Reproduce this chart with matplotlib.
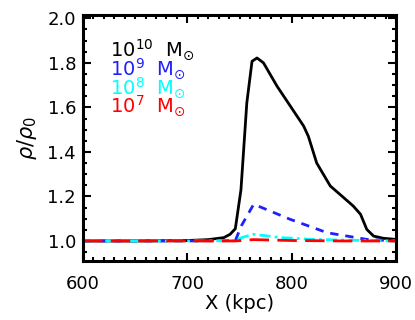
import matplotlib
matplotlib.use("Agg")
import matplotlib.pyplot as plt
from matplotlib.ticker import MultipleLocator, FormatStrFormatter

plt.rcParams['font.family'] = ['DejaVu Sans']
plt.rcParams['mathtext.fontset'] = 'dejavusans'

# Data
x_black = [600, 650, 700, 720, 735, 741, 746, 751.4, 757, 762, 766.8, 773, 786, 798.7, 811.5,
           816, 824, 837, 850, 859, 866, 872, 878.5, 888, 900]
y_black = [1.0, 1.0, 1.002, 1.006, 1.015, 1.03, 1.055, 1.23, 1.62, 1.807, 1.822, 1.80, 1.695,
           1.606, 1.516, 1.47, 1.35, 1.247, 1.194, 1.157, 1.12, 1.052, 1.022, 1.012, 1.007]

x_blue = [600, 700, 746, 752, 763.6, 798.7, 834, 872, 900]
y_blue = [1.0, 1.0, 1.002, 1.07, 1.165, 1.097, 1.037, 1.007, 1.0]

x_cyan = [600, 700, 746, 752, 763, 790, 820, 860, 900]
y_cyan = [1.0, 1.0, 1.001, 1.015, 1.03, 1.015, 1.007, 1.003, 1.0]

x_red = [600, 700, 746, 763, 800, 850, 900]
y_red = [1.0, 1.0, 1.0, 1.006, 1.002, 1.0, 1.0]

labels = [r'10$^{10}$  M$_{\odot}$', r'10$^{9}$  M$_{\odot}$',
          r'10$^{8}$  M$_{\odot}$', r'10$^{7}$  M$_{\odot}$']
colors = ['black', '#2020ff', 'cyan', 'red']

fig = plt.figure(figsize=(4.15, 3.2), dpi=100)
ax = fig.add_axes([83/415, 1 - 261/320, (396-83)/415, (261-15)/320])

ax.plot(x_black, y_black, color='black', lw=2.0, solid_joinstyle='round')
ax.plot(x_blue, y_blue, color='#2020ff', lw=2.0, dashes=(3, 2.5))
ax.plot(x_cyan, y_cyan, color='cyan', lw=2.0, dashes=(4, 1.5, 1, 1.5))
ax.plot(x_red, y_red, color='red', lw=2.0, dashes=(7, 3))

ax.set_xlim(600, 900)
ax.set_ylim(0.91, 2.015)
ax.xaxis.set_major_locator(MultipleLocator(100))
ax.xaxis.set_minor_locator(MultipleLocator(10))
ax.yaxis.set_major_locator(MultipleLocator(0.2))
ax.yaxis.set_minor_locator(MultipleLocator(0.05))
ax.yaxis.set_major_formatter(FormatStrFormatter('%.1f'))
ax.tick_params(which='both', direction='in', top=True, right=True, width=1.5)
ax.tick_params(which='major', length=6, labelsize=13)
ax.tick_params(axis='x', which='major', pad=10)
ax.tick_params(axis='y', which='major', pad=5)
ax.tick_params(which='minor', length=3)
for s in ax.spines.values():
    s.set_linewidth(2.2)

ax.set_xlabel('X (kpc)', fontsize=14, labelpad=1)
ax.set_ylabel(r'$\rho/\rho_0$', fontsize=15, labelpad=6)

ys = [56.7, 75.5, 94, 112]
for lab, c, yy in zip(labels, colors, ys):
    ax.text(110/415, 1 - yy/320, lab, color=c, fontsize=14, transform=fig.transFigure,
            va='baseline', ha='left')

fig.savefig('out.png', dpi=100)
